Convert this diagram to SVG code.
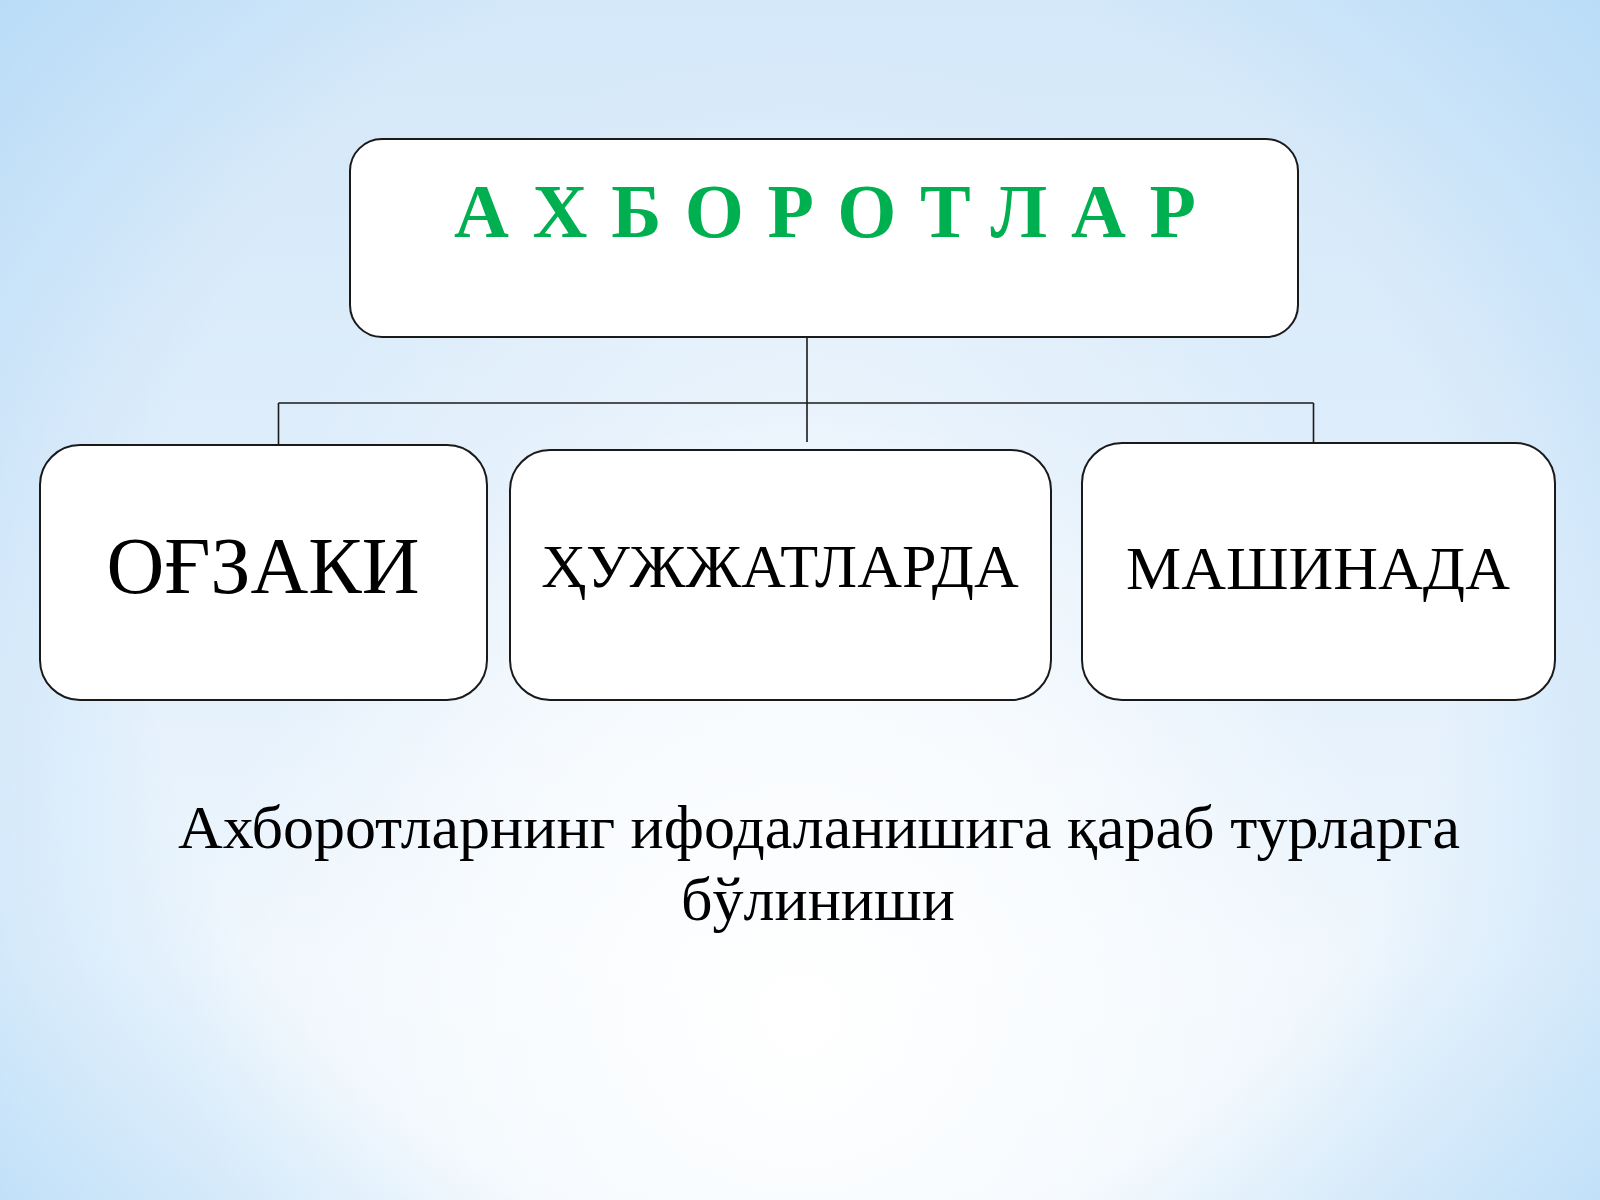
<svg xmlns="http://www.w3.org/2000/svg" width="1600" height="1200" viewBox="0 0 1600 1200">
  <defs>
    <linearGradient id="bgLin" x1="0" y1="0" x2="0" y2="1">
      <stop offset="0" stop-color="#d4e8f9"/>
      <stop offset="0.45" stop-color="#e0eefb"/>
      <stop offset="0.8" stop-color="#eef6fd"/>
      <stop offset="1" stop-color="#e8f3fc"/>
    </linearGradient>
    <radialGradient id="glow" cx="800" cy="1020" r="620" gradientUnits="userSpaceOnUse">
      <stop offset="0" stop-color="#ffffff" stop-opacity="1"/>
      <stop offset="0.5" stop-color="#ffffff" stop-opacity="0.6"/>
      <stop offset="1" stop-color="#ffffff" stop-opacity="0"/>
    </radialGradient>
    <radialGradient id="glow2" cx="800" cy="560" r="520" gradientUnits="userSpaceOnUse">
      <stop offset="0" stop-color="#ffffff" stop-opacity="0.5"/>
      <stop offset="1" stop-color="#ffffff" stop-opacity="0"/>
    </radialGradient>
    <radialGradient id="vign" cx="800" cy="600" r="1000" gradientUnits="userSpaceOnUse">
      <stop offset="0.65" stop-color="#a8d4f6" stop-opacity="0"/>
      <stop offset="1" stop-color="#a8d4f6" stop-opacity="0.6"/>
    </radialGradient>
    <style>
      .box { fill: #ffffff; stroke: #1a1a1a; stroke-width: 2; }
      .conn { stroke: #1a1a1a; stroke-width: 1.6; fill: none; }
      .label { font-family: "Liberation Serif", "DejaVu Serif", serif; fill: #000000; text-anchor: middle; }
    </style>
  </defs>

  <g id="background">
    <rect x="0" y="0" width="1600" height="1200" fill="url(#bgLin)"/>
    <rect x="0" y="0" width="1600" height="1200" fill="url(#glow2)"/>
    <rect x="0" y="0" width="1600" height="1200" fill="url(#glow)"/>
    <rect x="0" y="0" width="1600" height="1200" fill="url(#vign)"/>
  </g>

  <g id="connectors">
    <line class="conn" x1="807" y1="337" x2="807" y2="442"/>
    <line class="conn" x1="278.5" y1="403" x2="1313.5" y2="403"/>
    <line class="conn" x1="278.5" y1="403" x2="278.5" y2="445"/>
    <line class="conn" x1="1313.5" y1="403" x2="1313.5" y2="443"/>
  </g>

  <g id="node-root">
    <rect class="box" x="350" y="139" width="948" height="198" rx="32" ry="32"/>
    <text x="454" y="237" font-family="Liberation Serif, DejaVu Serif, serif" font-size="76" font-weight="bold" fill="#00b050" textLength="742" lengthAdjust="spacing">АХБОРОТЛАР</text>
  </g>

  <g id="node-ogzaki">
    <rect class="box" x="40" y="445" width="447" height="255" rx="40" ry="40"/>
    <text class="label" x="263" y="593" font-size="80">ОҒЗАКИ</text>
  </g>

  <g id="node-hujjatlarda">
    <rect class="box" x="510" y="450" width="541" height="250" rx="40" ry="40"/>
    <text class="label" x="780" y="587" font-size="62">ҲУЖЖАТЛАРДА</text>
  </g>

  <g id="node-mashinada">
    <rect class="box" x="1082" y="443" width="473" height="257" rx="40" ry="40"/>
    <text class="label" x="1318" y="589" font-size="62">МАШИНАДА</text>
  </g>

  <g id="caption">
    <text class="label" x="819" y="848" font-size="62">Ахборотларнинг ифодаланишига қараб турларга</text>
    <text class="label" x="818" y="920" font-size="62">бўлиниши</text>
  </g>
</svg>
